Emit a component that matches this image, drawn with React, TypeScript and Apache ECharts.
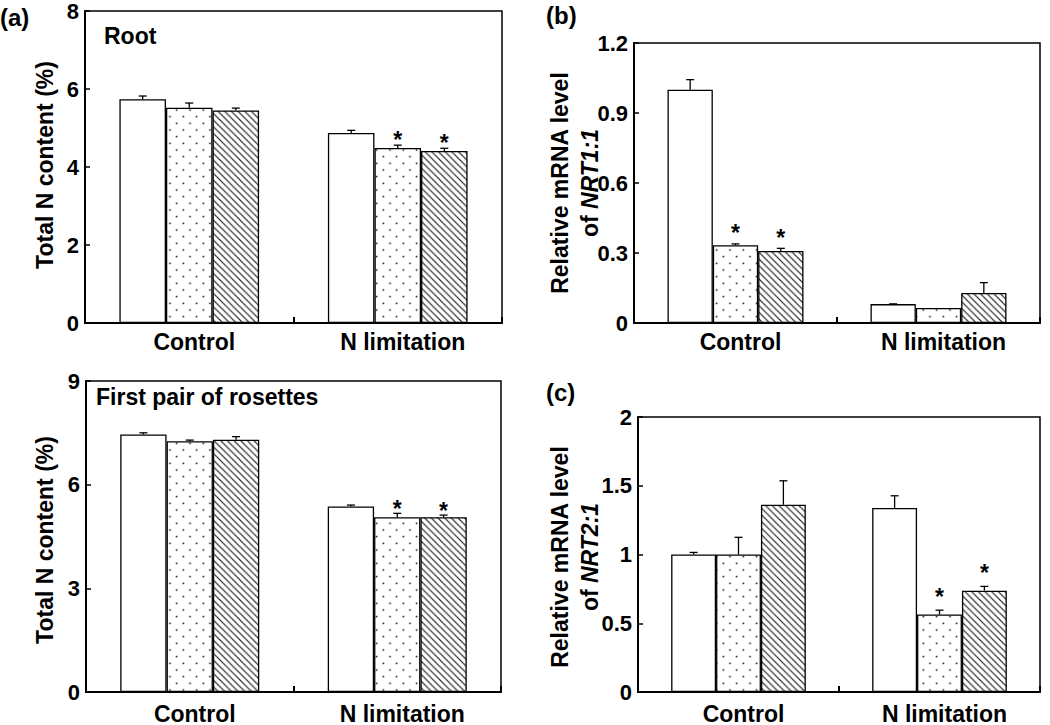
import React, { useEffect, useRef } from 'react';
import * as echarts from 'echarts';

const FONT = '"Liberation Sans", Arial, Helvetica, sans-serif';

const categories = ['Control', 'N limitation'];
const treatments = ['Open', 'Dotted', 'Hatched'];

// (a) Root — total N content (%)
const rootMeans = [[5.74, 4.87], [5.52, 4.49], [5.45, 4.41]];
const rootErrors = [[0.08, 0.07], [0.12, 0.07], [0.06, 0.07]];
const rootSig = [[0, 0], [0, 1], [0, 1]];
const rootAxis = [0, 8, 2];

// (a) First pair of rosettes — total N content (%)
const rosetteMeans = [[7.45, 5.37], [7.26, 5.06], [7.3, 5.06]];
const rosetteErrors = [[0.05, 0.04], [0.03, 0.11], [0.09, 0.06]];
const rosetteSig = [[0, 0], [0, 1], [0, 1]];
const rosetteAxis = [0, 9, 3];

// (b) Relative mRNA level of NRT1:1
const nrt1Means = [[1.0, 0.081], [0.333, 0.064], [0.309, 0.129]];
const nrt1Errors = [[0.043, 0.001], [0.006, 0], [0.011, 0.044]];
const nrt1Sig = [[0, 0], [1, 0], [1, 0]];
const nrt1Axis = [0, 1.2, 0.3];

// (c) Relative mRNA level of NRT2:1
const nrt2Means = [[1.0, 1.339], [1.0, 0.564], [1.362, 0.737]];
const nrt2Errors = [[0.015, 0.088], [0.125, 0.031], [0.174, 0.031]];
const nrt2Sig = [[0, 0], [0, 1], [0, 1]];
const nrt2Axis = [0, 2, 0.5];

const GAP = 0.33;

function dotPattern() {
  const c = document.createElement('canvas');
  c.width = 40;
  c.height = 40;
  const ctx = c.getContext('2d')!;
  ctx.fillStyle = '#fff';
  ctx.fillRect(0, 0, 40, 40);
  ctx.fillStyle = '#000';
  [[10, 10], [30, 30]].forEach(([x, y]) => {
    ctx.beginPath();
    ctx.arc(x, y, 2.8, 0, Math.PI * 2);
    ctx.fill();
  });
  return { image: c, repeat: 'repeat', imageWidth: 40 / 3, imageHeight: 40 / 3 };
}

function hatchPattern() {
  const s = 20;
  const c = document.createElement('canvas');
  c.width = s;
  c.height = s;
  const ctx = c.getContext('2d')!;
  ctx.fillStyle = '#fff';
  ctx.fillRect(0, 0, s, s);
  ctx.strokeStyle = '#000';
  ctx.lineWidth = 3;
  for (let k = -1; k <= 1; k++) {
    ctx.beginPath();
    ctx.moveTo(k * s - 2, -2);
    ctx.lineTo(k * s + s + 2, s + 2);
    ctx.stroke();
  }
  return { image: c, repeat: 'repeat', imageWidth: s / 3, imageHeight: s / 3 };
}

export default function App() {
  const ref = useRef<HTMLDivElement>(null);

  useEffect(() => {
    if (!ref.current) return;
    const chart = echarts.init(ref.current, null, { renderer: 'svg' });
    const fills: any[] = ['#ffffff', dotPattern(), hatchPattern()];

    const panels = [
      { grid: { left: 85, top: 8, width: 417, height: 315 }, means: rootMeans, errors: rootErrors, sig: rootSig, axis: rootAxis, star: 5, lm: 7 },
      { grid: { left: 86, top: 381, width: 415, height: 316 }, means: rosetteMeans, errors: rosetteErrors, sig: rosetteSig, axis: rosetteAxis, star: 4, lm: 10 },
      { grid: { left: 634, top: 43, width: 406, height: 280 }, means: nrt1Means, errors: nrt1Errors, sig: nrt1Sig, axis: nrt1Axis, star: 10.5, lm: 7 },
      { grid: { left: 638, top: 417, width: 402, height: 281 }, means: nrt2Means, errors: nrt2Errors, sig: nrt2Sig, axis: nrt2Axis, star: 13, lm: 10 },
    ];

    const grids: any[] = [];
    const xAxes: any[] = [];
    const yAxes: any[] = [];
    const series: any[] = [];

    panels.forEach((p, gi) => {
      grids.push({
        ...p.grid,
        show: true,
        borderColor: '#000',
        borderWidth: 1.5,
        backgroundColor: 'transparent',
        containLabel: false,
      });
      xAxes.push({
        type: 'category',
        gridIndex: gi,
        data: categories,
        boundaryGap: true,
        axisLine: { show: true, lineStyle: { color: '#000', width: 2 } },
        axisTick: { show: true, inside: true, length: 6, lineStyle: { color: '#000', width: 2 } },
        axisLabel: {
          color: '#000',
          fontSize: 23,
          fontWeight: 'bold',
          fontFamily: FONT,
          margin: p.lm,
          padding: [0, 0, 0, 10],
        },
        splitLine: { show: false },
      });
      yAxes.push({
        type: 'value',
        gridIndex: gi,
        min: p.axis[0],
        max: p.axis[1],
        interval: p.axis[2],
        axisLine: { show: true, lineStyle: { color: '#000', width: 2 } },
        axisTick: { show: true, inside: true, length: 5, lineStyle: { color: '#000', width: 1.5 } },
        axisLabel: {
          color: '#000',
          fontSize: 22,
          fontWeight: 'bold',
          fontFamily: FONT,
          margin: 6,
        },
        splitLine: { show: false },
      });
      treatments.forEach((name, s) => {
        series.push({
          type: 'bar',
          name,
          xAxisIndex: gi,
          yAxisIndex: gi,
          data: p.means[s],
          barGap: '0%',
          barCategoryGap: GAP * 100 + '%',
          itemStyle: { color: fills[s], borderColor: '#000', borderWidth: 1.3 },
          emphasis: { disabled: true },
          silent: true,
        });
      });
      const data: number[][] = [];
      p.means.forEach((arr, s) =>
        arr.forEach((m, c) => data.push([c, s, m, p.errors[s][c], p.sig[s][c]]))
      );
      const starOff = p.star;
      series.push({
        type: 'custom',
        xAxisIndex: gi,
        yAxisIndex: gi,
        z: 5,
        silent: true,
        encode: { x: 0, y: 2 },
        data,
        renderItem: (params: any, api: any) => {
          const c = api.value(0);
          const s = api.value(1);
          const m = api.value(2);
          const e = api.value(3);
          const g = api.value(4);
          const band = api.size([1, 0])[0];
          const bw = (band * (1 - GAP)) / 3;
          const base = api.coord([c, m]);
          const top = api.coord([c, m + e]);
          const cx = base[0] + (s - 1) * bw;
          const children: any[] = [];
          if (e > 0) {
            children.push({
              type: 'line',
              shape: { x1: cx, y1: base[1], x2: cx, y2: top[1] },
              style: { stroke: '#000', lineWidth: 1.3 },
            });
            children.push({
              type: 'line',
              shape: { x1: cx - 4, y1: top[1], x2: cx + 4, y2: top[1] },
              style: { stroke: '#000', lineWidth: 1.3 },
            });
          }
          if (g) {
            children.push({
              type: 'text',
              x: cx,
              y: top[1] - starOff,
              style: {
                text: '*',
                font: `bold 23px ${FONT}`,
                fill: '#000',
                align: 'center',
                verticalAlign: 'middle',
                textAlign: 'center',
                textVerticalAlign: 'middle',
              },
            });
          }
          return { type: 'group', children };
        },
      });
    });

    const txt = (text: string, x: number, y: number, size: number, extra: any = {}) => ({
      type: 'text',
      x,
      y,
      silent: true,
      rotation: extra.rotation || 0,
      style: {
        text,
        font: `bold ${size}px ${FONT}`,
        fill: '#000',
        align: extra.center ? 'center' : 'left',
        textAlign: extra.center ? 'center' : 'left',
        verticalAlign: 'middle',
        textVerticalAlign: 'middle',
        ...(extra.style || {}),
      },
    });

    const richTitle = (gene: string) => ({
      text: `{n|Relative mRNA level}\n{n|of }{i|${gene}}`,
      rich: {
        n: { font: `bold 23px ${FONT}`, fill: '#000', lineHeight: 30 },
        i: { font: `italic bold 23px ${FONT}`, fill: '#000', lineHeight: 30 },
      },
    });

    const graphic: any[] = [
      txt('(a)', 0, 17, 24),
      txt('(b)', 546, 15, 24),
      txt('(c)', 546, 392, 24),
      txt('Root', 104, 36, 23),
      txt('First pair of rosettes', 96, 397, 23),
      txt('Total N content (%)', 45, 165, 23, { center: true, rotation: Math.PI / 2 }),
      txt('Total N content (%)', 45, 540, 23, { center: true, rotation: Math.PI / 2 }),
      txt('', 575, 183, 23, { center: true, rotation: Math.PI / 2, style: richTitle('NRT1:1') }),
      txt('', 575, 557, 23, { center: true, rotation: Math.PI / 2, style: richTitle('NRT2:1') }),
    ];

    chart.setOption({
      animation: false,
      backgroundColor: '#fff',
      textStyle: { fontFamily: FONT },
      grid: grids,
      xAxis: xAxes,
      yAxis: yAxes,
      series,
      graphic,
    });
    return () => chart.dispose();
  }, []);

  return (
    <div
      ref={ref}
      style={{ position: 'absolute', left: 0, top: 0, width: 1050, height: 725, background: '#fff' }}
    />
  );
}
